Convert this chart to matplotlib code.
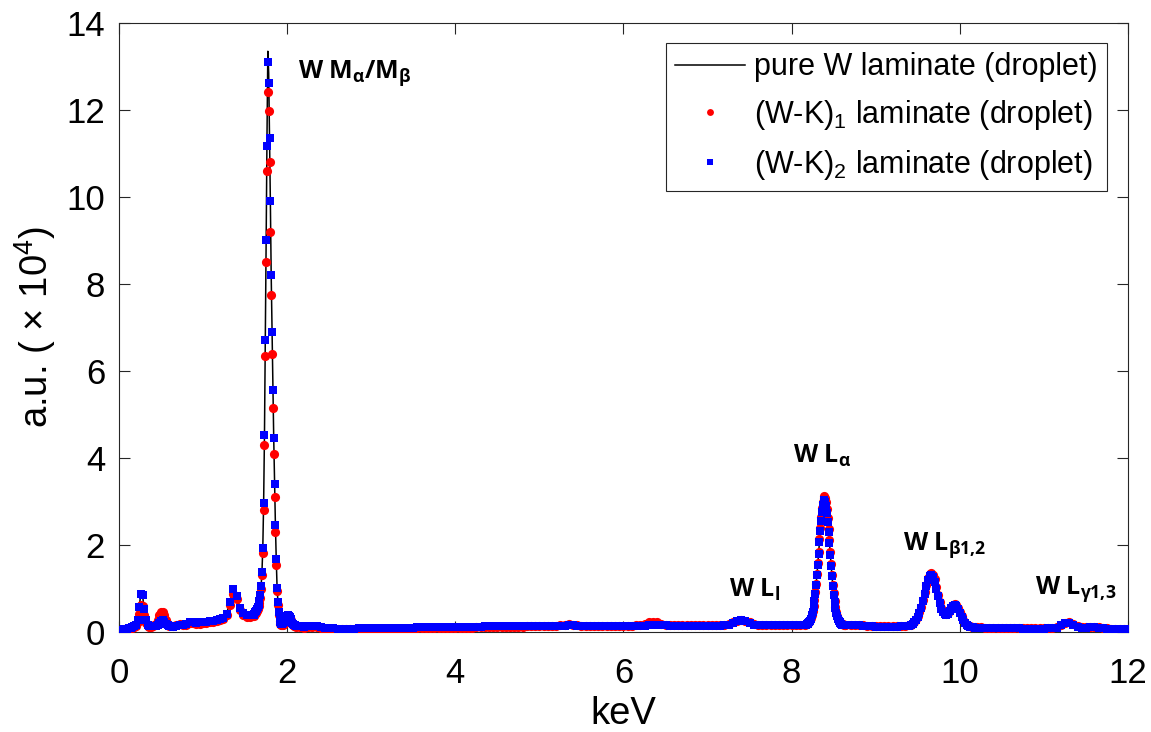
import matplotlib
matplotlib.use("Agg")
import matplotlib.pyplot as plt
import numpy as np

# energy channels (keV); finer spacing where the peaks are
energy = np.round(np.concatenate([
    np.arange(0.00, 0.59, 0.02),
    np.arange(0.60, 1.57, 0.04),
    np.arange(1.60, 2.095, 0.01),
    np.arange(2.10, 8.125, 0.05),
    np.arange(8.16, 8.645, 0.01),
    np.arange(8.70, 9.41, 0.05),
    np.arange(9.42, 10.19, 0.02),
    np.arange(10.20, 12.01, 0.05),
]), 3)

# counts in units of 1e4
pure_w = [
    0.04, 0.05, 0.05, 0.06, 0.07, 0.08, 0.09, 0.10, 0.11, 0.13,
    0.16, 0.28, 0.58, 0.88, 0.84, 0.52, 0.27, 0.17, 0.14, 0.13,
    0.13, 0.13, 0.14, 0.16, 0.20, 0.25, 0.27, 0.24, 0.18, 0.15,
    # 0.60 - 1.56
    0.13, 0.12, 0.13, 0.15, 0.16, 0.19, 0.24, 0.23, 0.21, 0.22,
    0.23, 0.24, 0.25, 0.26, 0.28, 0.30, 0.33, 0.42, 0.70, 0.98,
    0.82, 0.55, 0.43, 0.38, 0.38,
    # 1.60 - 2.09
    0.40, 0.42, 0.45, 0.48, 0.52, 0.57, 0.63, 0.72, 0.85, 1.05,
    1.38, 1.92, 2.97, 4.53, 6.71, 9.01, 11.40, 13.35, 12.85, 11.40,
    9.90, 8.20, 6.90, 5.56, 4.46, 3.40, 2.47, 1.67, 1.02, 0.69,
    0.45, 0.30, 0.22, 0.19, 0.19, 0.20, 0.22, 0.25, 0.28, 0.32,
    0.36, 0.38, 0.37, 0.34, 0.30, 0.25, 0.21, 0.18, 0.16, 0.15,
    # 2.10 - 8.10
    0.14, 0.13, 0.12, 0.13, 0.14, 0.13, 0.12, 0.10, 0.09, 0.085,
    0.08, 0.08, 0.08, 0.08, 0.08, 0.085, 0.085, 0.09, 0.09, 0.09,
    0.09, 0.095, 0.095, 0.10, 0.10, 0.10, 0.10, 0.10, 0.10, 0.105,
    0.105, 0.11, 0.11, 0.11, 0.11, 0.115, 0.115, 0.12, 0.12, 0.12,
    0.12, 0.12, 0.12, 0.125, 0.125, 0.13, 0.13, 0.13, 0.13, 0.13,
    0.13, 0.135, 0.135, 0.135, 0.135, 0.14, 0.14, 0.14, 0.14, 0.14,
    0.14, 0.14, 0.14, 0.145, 0.145, 0.15, 0.15, 0.145, 0.145, 0.145,
    0.145, 0.145, 0.145, 0.145, 0.145, 0.145, 0.145, 0.145, 0.145, 0.145,
    0.145, 0.145, 0.145, 0.145, 0.15, 0.155, 0.155, 0.15, 0.15, 0.145,
    0.145, 0.145, 0.145, 0.145, 0.145, 0.145, 0.145, 0.145, 0.145, 0.145,
    0.145, 0.145, 0.15, 0.17, 0.21, 0.25, 0.27, 0.25, 0.21, 0.17,
    0.16, 0.15, 0.15, 0.15, 0.15, 0.15, 0.15, 0.15, 0.155, 0.155,
    0.16,
    # 8.16 - 8.64
    0.16, 0.17, 0.18, 0.19, 0.21, 0.23, 0.26, 0.31, 0.38, 0.46,
    0.57, 0.71, 0.88, 1.07, 1.30, 1.54, 1.80, 2.07, 2.33, 2.57,
    2.77, 2.92, 3.02, 3.05, 3.01, 2.90, 2.75, 2.55, 2.31, 2.05,
    1.78, 1.52, 1.28, 1.05, 0.86, 0.69, 0.55, 0.44, 0.36, 0.30,
    0.25, 0.22, 0.20, 0.18, 0.17, 0.17, 0.16, 0.16, 0.16,
    # 8.70 - 9.40
    0.16, 0.15, 0.15, 0.14, 0.13, 0.13, 0.12, 0.12, 0.12, 0.12,
    0.12, 0.12, 0.13, 0.13, 0.14,
    # 9.42 - 10.18
    0.16, 0.19, 0.23, 0.28, 0.35, 0.44, 0.56, 0.71, 0.88, 1.05,
    1.19, 1.28, 1.31, 1.27, 1.16, 1.00, 0.83, 0.67, 0.54, 0.46,
    0.41, 0.40, 0.42, 0.48, 0.55, 0.60, 0.62, 0.60, 0.53, 0.44,
    0.35, 0.27, 0.20, 0.16, 0.13, 0.12, 0.11, 0.11, 0.10,
    # 10.20 - 12.00
    0.10, 0.10, 0.09, 0.09, 0.09, 0.09, 0.09, 0.09, 0.085, 0.085,
    0.085, 0.08, 0.08, 0.08, 0.08, 0.08, 0.08, 0.085, 0.09, 0.10,
    0.15, 0.20, 0.21, 0.17, 0.12, 0.10, 0.10, 0.11, 0.11, 0.10,
    0.09, 0.08, 0.07, 0.07, 0.06, 0.06, 0.06,
]

wk_1 = [
    0.03, 0.04, 0.05, 0.06, 0.06, 0.07, 0.08, 0.09, 0.10, 0.12,
    0.14, 0.22, 0.42, 0.62, 0.60, 0.38, 0.20, 0.14, 0.12, 0.12,
    0.13, 0.15, 0.19, 0.27, 0.38, 0.46, 0.47, 0.40, 0.28, 0.19,
    # 0.60 - 1.56
    0.14, 0.13, 0.15, 0.18, 0.15, 0.16, 0.20, 0.20, 0.18, 0.19,
    0.20, 0.21, 0.22, 0.23, 0.25, 0.27, 0.30, 0.38, 0.62, 0.88,
    0.75, 0.50, 0.39, 0.34, 0.34,
    # 1.60 - 2.09
    0.36, 0.38, 0.41, 0.44, 0.48, 0.53, 0.59, 0.67, 0.79, 0.98,
    1.30, 1.82, 2.80, 4.30, 6.35, 8.50, 10.60, 12.42, 11.97, 10.80,
    9.20, 7.75, 6.40, 5.15, 4.10, 3.10, 2.30, 1.55, 0.95, 0.62,
    0.40, 0.26, 0.19, 0.16, 0.16, 0.17, 0.19, 0.22, 0.26, 0.30,
    0.33, 0.34, 0.33, 0.30, 0.27, 0.22, 0.18, 0.15, 0.13, 0.13,
    # 2.10 - 8.10
    0.12, 0.11, 0.10, 0.11, 0.12, 0.11, 0.10, 0.08, 0.07, 0.065,
    0.06, 0.06, 0.06, 0.06, 0.06, 0.065, 0.065, 0.07, 0.07, 0.07,
    0.07, 0.075, 0.075, 0.08, 0.08, 0.08, 0.08, 0.08, 0.08, 0.085,
    0.085, 0.09, 0.09, 0.09, 0.09, 0.095, 0.095, 0.10, 0.10, 0.10,
    0.10, 0.10, 0.10, 0.11, 0.11, 0.115, 0.115, 0.12, 0.12, 0.12,
    0.12, 0.125, 0.125, 0.125, 0.125, 0.13, 0.13, 0.13, 0.13, 0.13,
    0.13, 0.135, 0.135, 0.15, 0.165, 0.175, 0.17, 0.155, 0.145, 0.145,
    0.145, 0.145, 0.145, 0.145, 0.145, 0.145, 0.145, 0.145, 0.145, 0.145,
    0.145, 0.15, 0.16, 0.19, 0.22, 0.24, 0.23, 0.19, 0.165, 0.155,
    0.15, 0.15, 0.15, 0.15, 0.15, 0.15, 0.15, 0.15, 0.15, 0.15,
    0.15, 0.15, 0.16, 0.18, 0.22, 0.26, 0.28, 0.26, 0.22, 0.18,
    0.17, 0.16, 0.16, 0.16, 0.16, 0.16, 0.16, 0.16, 0.165, 0.165,
    0.17,
    # 8.16 - 8.64
    0.17, 0.18, 0.19, 0.20, 0.22, 0.24, 0.27, 0.32, 0.39, 0.48,
    0.59, 0.73, 0.91, 1.10, 1.34, 1.59, 1.85, 2.13, 2.39, 2.64,
    2.84, 3.00, 3.09, 3.12, 3.08, 2.98, 2.82, 2.62, 2.37, 2.11,
    1.83, 1.57, 1.32, 1.08, 0.89, 0.71, 0.57, 0.45, 0.37, 0.31,
    0.26, 0.23, 0.21, 0.19, 0.18, 0.18, 0.17, 0.17, 0.17,
    # 8.70 - 9.40
    0.17, 0.16, 0.16, 0.15, 0.14, 0.14, 0.13, 0.13, 0.13, 0.13,
    0.13, 0.13, 0.14, 0.14, 0.15,
    # 9.42 - 10.18
    0.17, 0.20, 0.24, 0.29, 0.37, 0.46, 0.58, 0.74, 0.91, 1.09,
    1.24, 1.33, 1.36, 1.32, 1.21, 1.04, 0.86, 0.70, 0.56, 0.48,
    0.43, 0.42, 0.44, 0.50, 0.57, 0.63, 0.65, 0.63, 0.55, 0.46,
    0.36, 0.28, 0.21, 0.17, 0.14, 0.13, 0.12, 0.12, 0.11,
    # 10.20 - 12.00
    0.11, 0.11, 0.10, 0.10, 0.10, 0.10, 0.10, 0.10, 0.09, 0.09,
    0.09, 0.085, 0.085, 0.085, 0.085, 0.085, 0.085, 0.09, 0.095, 0.105,
    0.16, 0.21, 0.22, 0.18, 0.13, 0.11, 0.11, 0.12, 0.12, 0.11,
    0.10, 0.09, 0.08, 0.075, 0.07, 0.065, 0.065,
]

wk_2 = [
    0.04, 0.05, 0.05, 0.06, 0.07, 0.08, 0.09, 0.10, 0.11, 0.13,
    0.16, 0.28, 0.58, 0.88, 0.84, 0.52, 0.27, 0.17, 0.14, 0.13,
    0.13, 0.13, 0.14, 0.16, 0.20, 0.25, 0.27, 0.24, 0.18, 0.15,
    # 0.60 - 1.56
    0.13, 0.12, 0.13, 0.15, 0.16, 0.19, 0.24, 0.23, 0.21, 0.22,
    0.23, 0.24, 0.25, 0.26, 0.28, 0.30, 0.33, 0.42, 0.70, 0.98,
    0.82, 0.55, 0.43, 0.38, 0.38,
    # 1.60 - 2.09
    0.40, 0.42, 0.45, 0.48, 0.52, 0.57, 0.63, 0.72, 0.85, 1.05,
    1.38, 1.92, 2.97, 4.53, 6.71, 9.01, 11.17, 13.10, 12.62, 11.35,
    9.90, 8.20, 6.90, 5.56, 4.46, 3.40, 2.47, 1.67, 1.02, 0.69,
    0.45, 0.30, 0.22, 0.19, 0.19, 0.20, 0.22, 0.25, 0.28, 0.32,
    0.36, 0.38, 0.37, 0.34, 0.30, 0.25, 0.21, 0.18, 0.16, 0.15,
    # 2.10 - 8.10
    0.14, 0.13, 0.12, 0.13, 0.14, 0.13, 0.12, 0.10, 0.09, 0.085,
    0.08, 0.08, 0.08, 0.08, 0.08, 0.085, 0.085, 0.09, 0.09, 0.09,
    0.09, 0.095, 0.095, 0.10, 0.10, 0.10, 0.10, 0.10, 0.10, 0.105,
    0.105, 0.11, 0.11, 0.11, 0.11, 0.115, 0.115, 0.12, 0.12, 0.12,
    0.12, 0.12, 0.12, 0.125, 0.125, 0.13, 0.13, 0.13, 0.13, 0.13,
    0.13, 0.135, 0.135, 0.135, 0.135, 0.14, 0.14, 0.14, 0.14, 0.14,
    0.14, 0.14, 0.14, 0.145, 0.145, 0.15, 0.15, 0.145, 0.145, 0.145,
    0.145, 0.145, 0.145, 0.145, 0.145, 0.145, 0.145, 0.145, 0.145, 0.145,
    0.145, 0.145, 0.145, 0.145, 0.15, 0.155, 0.155, 0.15, 0.15, 0.145,
    0.145, 0.145, 0.145, 0.145, 0.145, 0.145, 0.145, 0.145, 0.145, 0.145,
    0.145, 0.145, 0.15, 0.17, 0.21, 0.25, 0.27, 0.25, 0.21, 0.17,
    0.16, 0.15, 0.15, 0.15, 0.15, 0.15, 0.15, 0.15, 0.155, 0.155,
    0.16,
    # 8.16 - 8.64
    0.16, 0.17, 0.18, 0.19, 0.21, 0.23, 0.26, 0.31, 0.38, 0.46,
    0.57, 0.71, 0.88, 1.07, 1.30, 1.54, 1.80, 2.07, 2.32, 2.56,
    2.76, 2.91, 3.00, 3.03, 2.99, 2.89, 2.74, 2.54, 2.30, 2.05,
    1.78, 1.52, 1.28, 1.05, 0.86, 0.69, 0.55, 0.44, 0.36, 0.30,
    0.25, 0.22, 0.20, 0.18, 0.17, 0.17, 0.16, 0.16, 0.16,
    # 8.70 - 9.40
    0.16, 0.15, 0.15, 0.14, 0.13, 0.13, 0.12, 0.12, 0.12, 0.12,
    0.12, 0.12, 0.13, 0.13, 0.14,
    # 9.42 - 10.18
    0.16, 0.19, 0.23, 0.28, 0.35, 0.44, 0.56, 0.71, 0.88, 1.05,
    1.19, 1.28, 1.31, 1.27, 1.16, 1.00, 0.83, 0.67, 0.54, 0.46,
    0.41, 0.40, 0.42, 0.48, 0.55, 0.60, 0.62, 0.60, 0.53, 0.44,
    0.35, 0.27, 0.20, 0.16, 0.13, 0.12, 0.11, 0.11, 0.10,
    # 10.20 - 12.00
    0.10, 0.10, 0.09, 0.09, 0.09, 0.09, 0.09, 0.09, 0.085, 0.085,
    0.085, 0.08, 0.08, 0.08, 0.08, 0.08, 0.08, 0.085, 0.09, 0.10,
    0.15, 0.20, 0.21, 0.17, 0.12, 0.10, 0.10, 0.11, 0.11, 0.10,
    0.09, 0.08, 0.07, 0.07, 0.06, 0.06, 0.06,
]

series_labels = ['pure W laminate (droplet)',
                 '(W-K)$_{1}$ laminate (droplet)',
                 '(W-K)$_{2}$ laminate (droplet)']

# peak labels: (text, x, y)
peak_labels = [
    (r'W M$_{\mathbf{α}}$/M$_{\mathbf{β}}$', 2.13, 12.75),
    (r'W L$_{\mathbf{α}}$', 8.02, 3.88),
    (r'W L$_{\mathbf{l}}$', 7.26, 0.8),
    (r'W L$_{\mathbf{β1{,}2}}$', 9.33, 1.9),
    (r'W L$_{\mathbf{γ1{,}3}}$', 10.89, 0.87),
]

plt.rcParams['font.family'] = ['Liberation Sans', 'DejaVu Sans']
plt.rcParams['mathtext.fontset'] = 'custom'
plt.rcParams['mathtext.rm'] = 'Liberation Sans'
plt.rcParams['mathtext.it'] = 'Liberation Sans:italic'
plt.rcParams['mathtext.bf'] = 'Open Sans:bold'

fig = plt.figure(figsize=(11.51, 7.32), dpi=100)
ax = fig.add_axes([0.1034, 0.1366, 0.8766, 0.832])

ax.plot(energy, pure_w, color='black', lw=1.1, label=series_labels[0], zorder=2)
ax.plot(energy, wk_1, linestyle='none', marker='o', ms=6.6, mew=0,
        color='#ff0000', label=series_labels[1], zorder=3)
ax.plot(energy, wk_2, linestyle='none', marker='s', ms=5.7, mew=0,
        color='#0000ff', label=series_labels[2], zorder=4)

for txt, x, y in peak_labels:
    ax.text(x, y, txt, fontsize=18, fontweight='bold', family='Open Sans',
            ha='left', va='baseline')

ax.set_xlim(0, 12)
ax.set_ylim(0, 14)
ax.set_xticks(np.arange(0, 13, 2))
ax.set_yticks(np.arange(0, 15, 2))
ax.tick_params(direction='in', top=True, right=True, length=8, width=0.8,
               labelsize=25, colors='#262626', labelcolor='black')
ax.tick_params(axis='x', pad=18)
ax.tick_params(axis='y', pad=10)
for sp in ax.spines.values():
    sp.set_color('#262626')
    sp.set_linewidth(0.8)

ax.set_xlabel('keV', fontsize=27.5, labelpad=4)
ax.set_ylabel('a.u. ( × 10$^{4}$)', fontsize=27.5, labelpad=6)

leg = ax.legend(loc='upper right', bbox_to_anchor=(0.979, 0.967),
                borderaxespad=0, fontsize=22, fancybox=False, framealpha=1,
                edgecolor='#262626', handlelength=2.3, handletextpad=0.28,
                borderpad=0.3, labelspacing=0.52, markerscale=0.75)
leg.get_frame().set_linewidth(0.8)

fig.savefig('out.png', dpi=100)
